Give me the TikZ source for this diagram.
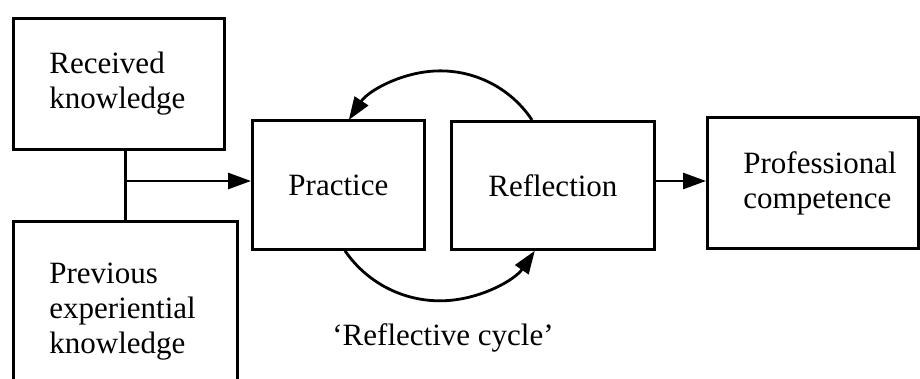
\documentclass[tikz,border=0pt]{standalone}
\usepackage{fontspec}
\setmainfont{Liberation Serif}
\usetikzlibrary{arrows.meta,calc}
\begin{document}
\begin{tikzpicture}[x=0.5pt,y=0.5pt,
  line width=1.4pt,
  box/.style={draw,rectangle,anchor=north west,inner sep=0pt,font=\fontsize{15.5}{17.5}\selectfont},
  lbox/.style={box,align=left,inner xsep=18pt},
  cbox/.style={box,align=center},
  arr/.style={-{Triangle[length=11.5pt,width=8pt]}}]
\useasboundingbox (0,0) rectangle (920,-379);
\clip (0,0) rectangle (920,-379);
\node[lbox,text width=69.5pt,minimum height=65.5pt] (rec) at (12,-17) {Received\\knowledge};
\node[lbox,text width=76pt,minimum height=90pt] (prev) at (12,-220) {Previous\\experiential\\knowledge};
\node[cbox,minimum width=86pt,minimum height=64.5pt] (prac) at (251,-119) {Practice};
\node[cbox,minimum width=101.5pt,minimum height=64pt] (refl) at (450,-120) {Reflection};
\node[lbox,text width=69.5pt,minimum height=65.5pt] (prof) at (706,-116) {Professional\\competence};
\node[font=\fontsize{15.5}{17.5}\selectfont] (cap) at (443,-338) {‘Reflective cycle’};
\coordinate (j) at (prev.north |- 0,-181);
\draw (rec.south -| prev.north) -- (prev.north);
\draw[arr] (j) -- (j -| prac.west);
\draw[arr] (refl.east |- 0,-181) -- (prof.west |- 0,-181);
\draw[arr] ($(refl.north west)+(82,0)$) arc[start angle=33.6,end angle=146.4,radius=110];
\draw[arr] ($(prac.south west)+(94,0)$) arc[start angle=214.4,end angle=325.6,radius=115];
\end{tikzpicture}
\end{document}
